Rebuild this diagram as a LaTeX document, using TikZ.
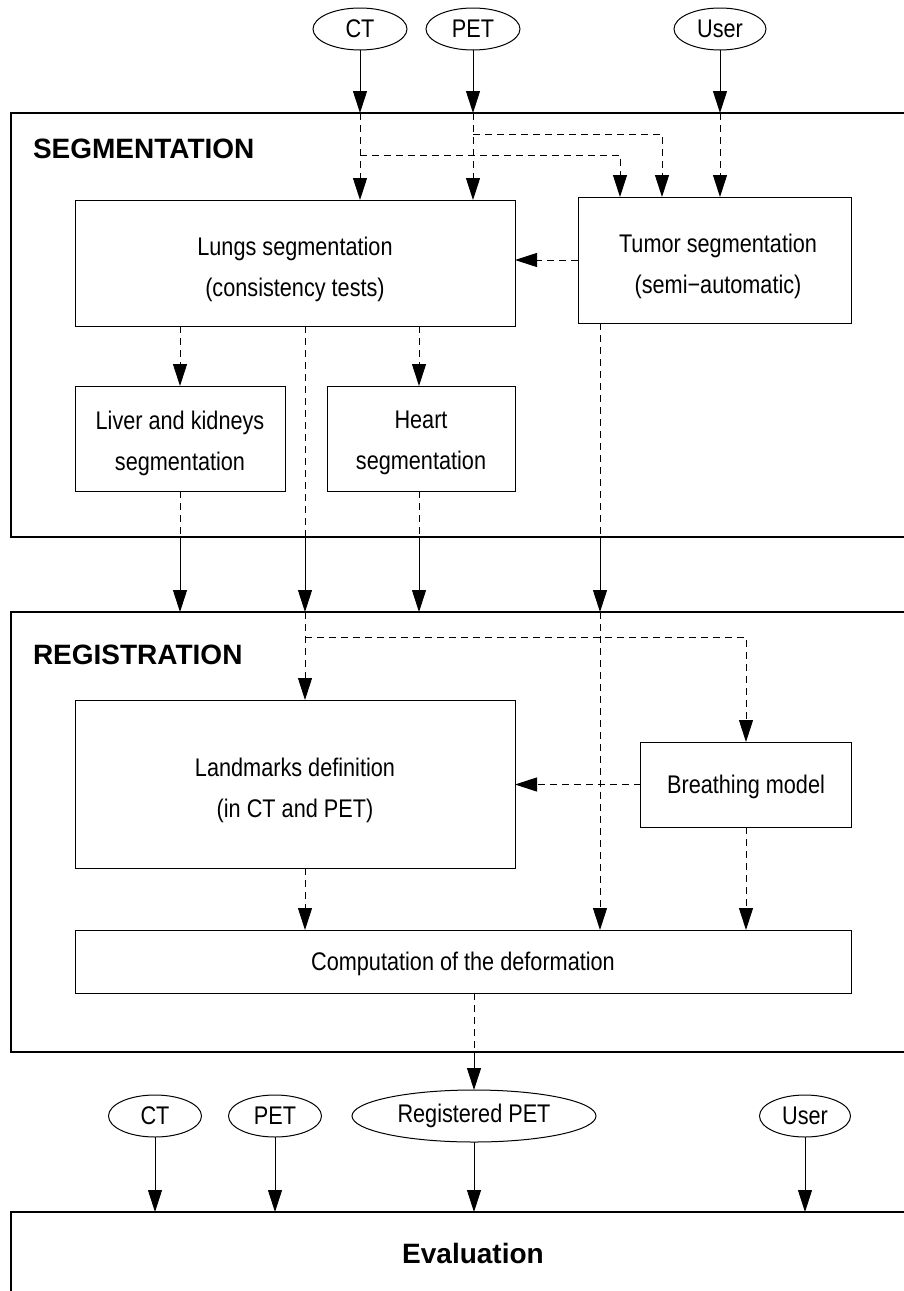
\documentclass[tikz,border=0pt]{standalone}
\usepackage{fontspec}
\setmainfont{Liberation Sans}[FakeStretch=0.85]
\newfontfamily\headfont{Liberation Sans}
\usetikzlibrary{arrows.meta,shapes.geometric}
\begin{document}
\begin{tikzpicture}[x=1pt,y=-1pt,
  every node/.style={inner sep=0pt,outer sep=0pt},
  txt/.style={font=\fontsize{25.5}{41}\selectfont,align=center},
  box/.style={draw,line width=1pt},
  frame/.style={draw,line width=1.4pt,anchor=north west,minimum width=1000pt},
  src/.style={txt,draw,ellipse,line width=1pt,minimum height=42pt},
  head/.style={font=\headfont\bfseries\fontsize{28}{30}\selectfont},
  tip/.style={-{Triangle[length=22pt,width=14pt]}},
  flow/.style={line width=1pt,tip},
  dflow/.style={line width=1pt,dash pattern=on 7pt off 5pt,tip},
  dline/.style={line width=1pt,dash pattern=on 7pt off 5pt},
]
\useasboundingbox (0,0) rectangle (904,1291);
\clip (0,0) rectangle (904,1291);

% stage frames (open to the right / bottom)
\node[frame,minimum height=424pt] (seg) at (11,113) {};
\node[frame,minimum height=440pt] (reg) at (11,612) {};
\node[frame,minimum height=200pt] (eval) at (11,1212) {};

\node[head,anchor=west] (segTitle) at (33,149) {SEGMENTATION};
\node[head,anchor=west] (regTitle) at (33,655) {REGISTRATION};
\node[head] (evalTitle) at (473,1253) {Evaluation};

% input data
\node[src,minimum width=94pt] (ct1) at (360,29) {CT};
\node[src,minimum width=94pt] (pet1) at (473,29) {PET};
\node[src,minimum width=92pt] (user1) at (720,29) {User};

% segmentation blocks
\node[box,minimum width=440pt,minimum height=126pt] (lungs) at (295,263) {};
\node[txt] (lungsText) at (295,269) {Lungs segmentation\\(consistency tests)};
\node[box,minimum width=273pt,minimum height=126pt] (tumor) at (714.5,260) {};
\node[txt] (tumorText) at (718,266) {Tumor segmentation\\(semi−automatic)};
\node[box,minimum width=210pt,minimum height=105pt] (liver) at (180,438.5) {};
\node[txt] (liverText) at (180,443) {Liver and kidneys\\segmentation};
\node[box,minimum width=188pt,minimum height=105pt] (heart) at (421,438.5) {};
\node[txt] (heartText) at (421,443) {Heart\\segmentation};

% registration blocks
\node[box,minimum width=440pt,minimum height=168pt] (landmarks) at (295,784) {};
\node[txt] (landmarksText) at (295,790) {Landmarks definition\\(in CT and PET)};
\node[box,minimum width=211pt,minimum height=85pt] (breathing) at (746,784.5) {};
\node[txt] (breathingText) at (746,786.5) {Breathing model};
\node[box,minimum width=776pt,minimum height=63pt] (comp) at (463,961.5) {};
\node[txt] (compText) at (463,964) {Computation of the deformation};

% evaluation inputs
\node[src,minimum width=93pt] (ct2) at (155,1116) {CT};
\node[src,minimum width=93pt] (pet2) at (275,1116) {PET};
\node[src,minimum width=244pt,minimum height=52pt] (regpet) at (474,1116) {Registered PET};
\node[src,minimum width=91pt] (user2) at (805,1116) {User};

% connector columns and rows
\coordinate (xa) at (620,0);
\coordinate (xb) at (662,0);
\coordinate (xLiv) at (180,0);
\coordinate (xMid) at (305,0);
\coordinate (xHrt) at (419,0);
\coordinate (xTum) at (600,0);
\coordinate (yCT) at (0,155);
\coordinate (yPET) at (0,134);
\coordinate (yTum) at (0,260);
\coordinate (yReg) at (0,637);

% data into segmentation
\draw[flow] (ct1.south) -- (ct1 |- seg.north);
\draw[dflow] (ct1 |- seg.north) -- (ct1 |- lungs.north);
\draw[flow] (pet1.south) -- (pet1 |- seg.north);
\draw[dflow] (pet1 |- seg.north) -- (pet1 |- lungs.north);
\draw[flow] (user1.south) -- (user1 |- seg.north);
\draw[dflow] (user1 |- seg.north) -- (user1 |- tumor.north);
\draw[dflow] (ct1 |- yCT) -| (tumor.north -| xa);
\draw[dflow] (pet1 |- yPET) -| (tumor.north -| xb);

% inside segmentation
\draw[dflow] (tumor.west |- yTum) -- (lungs.east |- yTum);
\draw[dflow] (lungs.south -| xLiv) -- (liver.north -| xLiv);
\draw[dflow] (lungs.south -| xHrt) -- (heart.north -| xHrt);

% segmentation results into registration
\draw[dline] (liver.south -| xLiv) -- (seg.south -| xLiv);
\draw[flow] (seg.south -| xLiv) -- (reg.north -| xLiv);
\draw[dline] (lungs.south -| xMid) -- (seg.south -| xMid);
\draw[flow] (seg.south -| xMid) -- (reg.north -| xMid);
\draw[dline] (heart.south -| xHrt) -- (seg.south -| xHrt);
\draw[flow] (seg.south -| xHrt) -- (reg.north -| xHrt);
\draw[dline] (tumor.south -| xTum) -- (seg.south -| xTum);
\draw[flow] (seg.south -| xTum) -- (reg.north -| xTum);

% inside registration
\draw[dflow] (reg.north -| xMid) -- (landmarks.north -| xMid);
\draw[dflow] (xMid |- yReg) -| (breathing.north);
\draw[dflow] (breathing.west) -- (landmarks.east |- breathing.west);
\draw[dflow] (reg.north -| xTum) -- (comp.north -| xTum);
\draw[dflow] (landmarks.south -| xMid) -- (comp.north -| xMid);
\draw[dflow] (breathing.south) -- (comp.north -| breathing.south);

% registered image out of registration
\draw[dline] (comp.south -| regpet) -- (reg.south -| regpet);
\draw[flow] (reg.south -| regpet) -- (regpet.north);

% inputs to evaluation
\draw[flow] (ct2.south) -- (ct2 |- eval.north);
\draw[flow] (pet2.south) -- (pet2 |- eval.north);
\draw[flow] (regpet.south) -- (regpet |- eval.north);
\draw[flow] (user2.south) -- (user2 |- eval.north);
\end{tikzpicture}
\end{document}
